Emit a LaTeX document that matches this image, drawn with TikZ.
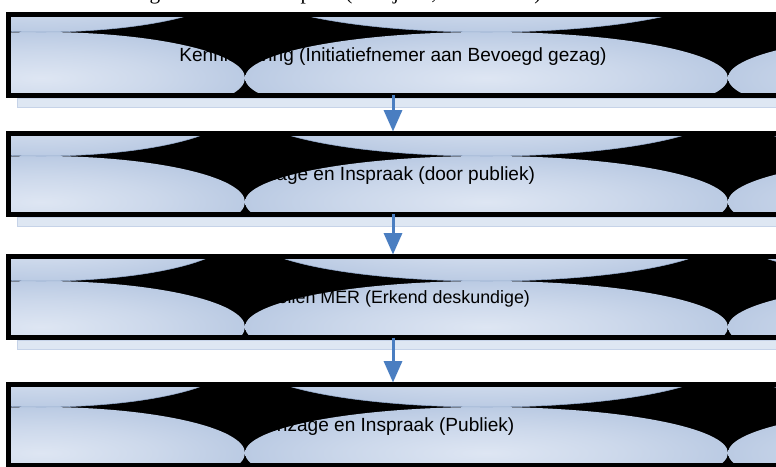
\documentclass[tikz,border=0pt]{standalone}
\usepackage{fontspec}
\usetikzlibrary{calc,arrows.meta}
\newfontfamily\stagefont{Liberation Sans}
\newfontfamily\capfont{Liberation Serif}

% palette
\definecolor{basec}{RGB}{182,199,225}
\definecolor{lightc}{RGB}{222,230,243}
\definecolor{linec}{RGB}{150,172,206}
\definecolor{bandc}{RGB}{222,231,243}
\definecolor{bandedge}{RGB}{198,211,232}
\definecolor{arrowc}{RGB}{74,126,193}

\pgfdeclareradialshading{ellshade}{\pgfpoint{0bp}{0bp}}{%
  color(0bp)=(lightc); color(14bp)=(lightc!55!basec);
  color(28bp)=(basec); color(50bp)=(basec)}

\tikzset{
  % one stage of the procedure; #1 = offset of the seam between the two rows of lobes
  stagebox/.style={
    rectangle, draw=black, fill=black, line width=3.75pt,
    minimum width=577.5pt, minimum height=60.75pt,
    inner sep=0pt, outer sep=0pt, text=black,
    text height=1.2em, text depth=0.2em,
    font={\stagefont\fontsize{14.3pt}{17pt}\selectfont},
    path picture={
      \coordinate (pc) at (path picture bounding box.center);
      % lower row of lobes
      \shade[shading=ellshade] ($(pc)+(-352,#1+46)$) ellipse [x radius=204, y radius=46];
      \shade[shading=ellshade] ($(pc)+(93.5,#1+46)$) ellipse [x radius=241.5, y radius=46];
      \shade[shading=ellshade] ($(pc)+(576.5,#1+46)$) ellipse [x radius=241.5, y radius=46];
      % upper row of lobes
      \shadedraw[shading=ellshade, draw=linec, line width=0.4pt] ($(pc)+(-352,#1-46)$) ellipse [x radius=192, y radius=46];
      \shadedraw[shading=ellshade, draw=linec, line width=0.4pt] ($(pc)+(93.5,#1-46)$) ellipse [x radius=236, y radius=46];
      \shadedraw[shading=ellshade, draw=linec, line width=0.4pt] ($(pc)+(576.5,#1-46)$) ellipse [x radius=236, y radius=46];
    }},
  smalltext/.style={font={\stagefont\fontsize{13.4pt}{16pt}\selectfont}},
  shadowband/.style={fill=bandc, draw=bandedge, line width=0.5pt},
  flowarrow/.style={draw=arrowc, line width=2.25pt, shorten >=1.5pt,
    -{Triangle[width=13.5pt,length=16pt]}},
  capglyph/.style={font={\capfont\fontsize{16pt}{19pt}\selectfont}, inner sep=0pt, anchor=base}
}

\begin{document}
\begin{tikzpicture}[x=0.75pt,y=-0.75pt]
\useasboundingbox (0,0) rectangle (776,467);

% descenders of the caption line above the chart
\node[capglyph] (c1) at (155,0) {g};
\node[capglyph] (c2) at (306,0) {p};
\node[capglyph] (c3) at (349,0) {(};
\node[capglyph] (c4) at (396,0) {j};
\node[capglyph] (c5) at (434,0) {,};
\node[capglyph] (c6) at (538,0) {)};

% stages
\node[stagebox=-23] (b1) at (393,55)  {Kennisgeving (Initiatiefnemer aan Bevoegd gezag)};
\node[stagebox=-18] (b2) at (393,174) {Inzage en Inspraak (door publiek)};
\node[stagebox=-16, smalltext] (b3) at (393,297) {Opstellen MER (Erkend deskundige)\hspace*{12pt}};
\node[stagebox=-18] (b4) at (393,425) {Inzage en Inspraak (Publiek)};

% reflection bands below the stages
\foreach \b in {b1,b2,b3}{
  \path[shadowband] ($(\b.south west)+(9,2.5)$) rectangle ($(\b.south east)+(20,12)$);
}

% flow
\draw[flowarrow] (b1.south) -- (b2.north);
\draw[flowarrow] (b2.south) -- (b3.north);
\draw[flowarrow] (b3.south) -- (b4.north);
\end{tikzpicture}
\end{document}
